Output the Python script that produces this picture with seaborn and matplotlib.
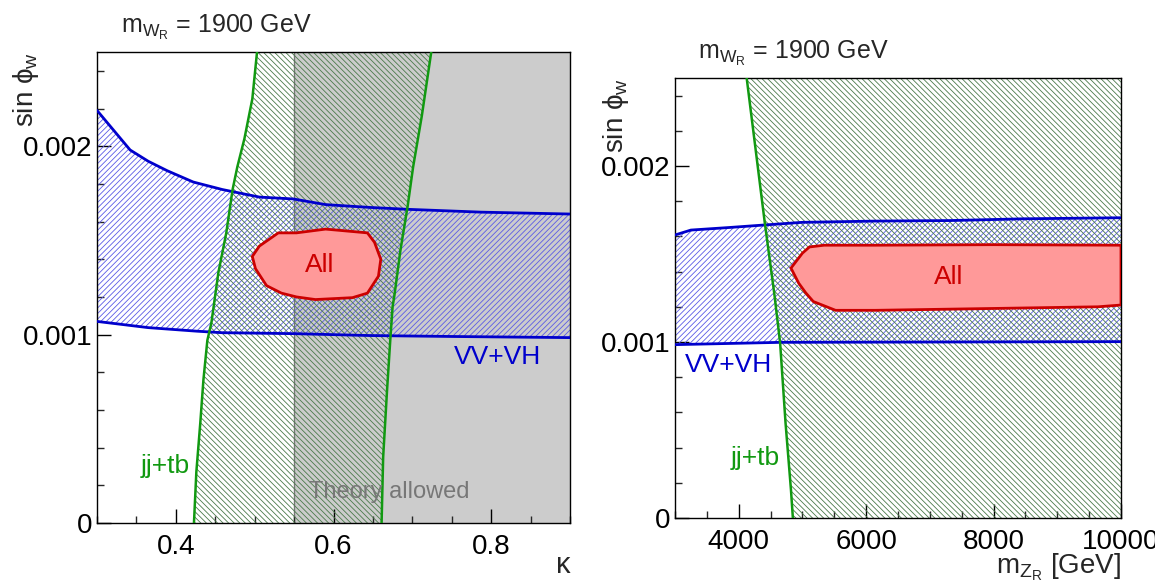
import numpy as np
import matplotlib
matplotlib.use("Agg")
import matplotlib.pyplot as plt
import seaborn as sns
from matplotlib.ticker import MultipleLocator, FuncFormatter

# ---- panel 1: sin(phi_w) vs kappa ----
kappa_vv_up = [0.30, 0.318, 0.342, 0.365, 0.389, 0.422, 0.459, 0.506, 0.549, 0.59, 0.646, 0.694, 0.787, 0.90]
sinw_vv_up = [2.19e-3, 2.10e-3, 1.98e-3, 1.92e-3, 1.87e-3, 1.81e-3, 1.77e-3, 1.73e-3, 1.72e-3,
              1.69e-3, 1.675e-3, 1.665e-3, 1.65e-3, 1.64e-3]
kappa_vv_lo = [0.30, 0.365, 0.427, 0.459, 0.55, 0.646, 0.75, 0.90]
sinw_vv_lo = [1.07e-3, 1.037e-3, 1.018e-3, 1.01e-3, 1.005e-3, 0.995e-3, 0.99e-3, 0.984e-3]

jj_sinw_left = [0, 0.27e-3, 0.53e-3, 0.76e-3, 0.97e-3, 1.06e-3, 1.33e-3, 1.54e-3, 1.77e-3, 1.89e-3, 2.04e-3, 2.25e-3, 2.5e-3]
jj_kappa_left = [0.423, 0.426, 0.431, 0.435, 0.44, 0.445, 0.454, 0.464, 0.472, 0.478, 0.487, 0.497, 0.503]
jj_sinw_right = [0, 0.35e-3, 0.71e-3, 0.97e-3, 1.15e-3, 1.2e-3, 1.45e-3, 1.68e-3, 1.89e-3, 2.16e-3, 2.5e-3]
jj_kappa_right = [0.661, 0.663, 0.668, 0.672, 0.675, 0.677, 0.685, 0.694, 0.701, 0.712, 0.724]

all_kappa = [0.497, 0.506, 0.53, 0.553, 0.59, 0.643, 0.652, 0.66, 0.657, 0.643, 0.624, 0.577,
             0.553, 0.534, 0.515, 0.501, 0.497]
all_sinw = [1.415e-3, 1.47e-3, 1.54e-3, 1.54e-3, 1.56e-3, 1.54e-3, 1.49e-3, 1.40e-3, 1.31e-3, 1.22e-3,
            1.196e-3, 1.186e-3, 1.2e-3, 1.22e-3, 1.26e-3, 1.35e-3, 1.415e-3]

kappa_theory_min = 0.55

# ---- panel 2: sin(phi_w) vs m_ZR ----
mz_vv_up = [3000, 3250, 3830, 4410, 5000, 6150, 7310, 8470, 10000]
sinw2_vv_up = [1.608e-3, 1.636e-3, 1.65e-3, 1.665e-3, 1.68e-3, 1.687e-3, 1.69e-3, 1.70e-3, 1.706e-3]
mz_vv_lo = [3000, 4650, 10000]
sinw2_vv_lo = [0.985e-3, 0.998e-3, 1.002e-3]

mz_jj = [4125, 4410, 4560, 4650, 4735, 4820, 4850]
sinw2_jj = [2.5e-3, 1.675e-3, 1.27e-3, 0.994e-3, 0.54e-3, 0.16e-3, 0]

all2_mz = [4820, 5000, 5110, 5340, 6150, 8000, 10000, 10000, 9640, 7900, 6150, 5520, 5170, 5050, 4940, 4820]
all2_sinw = [1.42e-3, 1.505e-3, 1.54e-3, 1.55e-3, 1.55e-3, 1.553e-3, 1.55e-3, 1.21e-3, 1.20e-3,
             1.19e-3, 1.18e-3, 1.18e-3, 1.23e-3, 1.28e-3, 1.335e-3, 1.42e-3]

BLUE = '#0000cc'
BLUE_H = '#5a5ae6'
GREEN = '#119911'
GREEN_H = '#4a7a4a'
RED = '#cc0000'
PINK = '#ff9999'
HATCH_B = '//////'
HATCH_G = '\\\\\\\\\\\\'

sns.set_theme(style='ticks')
plt.rcParams['font.family'] = ['Liberation Sans', 'DejaVu Sans']
plt.rcParams['mathtext.fontset'] = 'custom'
plt.rcParams['mathtext.rm'] = 'Liberation Sans'
plt.rcParams['mathtext.it'] = 'Liberation Sans:italic'
plt.rcParams['hatch.linewidth'] = 0.6

fig = plt.figure(figsize=(11.55, 5.81), dpi=100)
ax1 = fig.add_axes([97 / 1155, 58 / 581, 473 / 1155, 471 / 581])
ax2 = fig.add_axes([675 / 1155, 63 / 581, 446 / 1155, 440 / 581])


def style_axis(ax):
    for s in ax.spines.values():
        s.set_color('black')
        s.set_linewidth(1.0)
    ax.tick_params(which='major', direction='in', length=10, width=1.0, labelsize=20,
                   colors='black', top=False, right=False)
    ax.tick_params(which='minor', direction='in', length=5, width=1.0, top=False, right=False)
    ax.tick_params(axis='x', which='major', pad=8)
    ax.tick_params(axis='y', which='major', pad=3)
    ax.yaxis.set_major_locator(MultipleLocator(0.001))
    ax.yaxis.set_minor_locator(MultipleLocator(0.0002))
    ax.yaxis.set_major_formatter(FuncFormatter(lambda v, p: '0' if abs(v) < 1e-12 else f'{v:g}'))
    ax.set_ylim(0, 0.0025)
    ax.grid(False)


# ---------- left panel ----------
ax1.axvspan(kappa_theory_min, 0.9, color='#cccccc', lw=0, zorder=0)
ax1.axvline(kappa_theory_min, color='#777777', lw=1.0, zorder=0.5)

ax1.fill(kappa_vv_up + kappa_vv_lo[::-1], sinw_vv_up + sinw_vv_lo[::-1],
         facecolor='none', edgecolor=BLUE_H, hatch=HATCH_B, linewidth=0, zorder=1)
ax1.fill(jj_kappa_left + jj_kappa_right[::-1], jj_sinw_left + jj_sinw_right[::-1],
         facecolor='none', edgecolor=GREEN_H, hatch=HATCH_G, linewidth=0, zorder=1.5)
ax1.fill(all_kappa, all_sinw, facecolor=PINK, edgecolor=RED, linewidth=2, zorder=3)

sns.lineplot(x=kappa_vv_up, y=sinw_vv_up, sort=False, estimator=None, color=BLUE, lw=2, ax=ax1, zorder=4)
sns.lineplot(x=kappa_vv_lo, y=sinw_vv_lo, sort=False, estimator=None, color=BLUE, lw=2, ax=ax1, zorder=4)
sns.lineplot(x=jj_kappa_left, y=jj_sinw_left, sort=False, estimator=None, color=GREEN, lw=1.8, ax=ax1, zorder=4)
sns.lineplot(x=jj_kappa_right, y=jj_sinw_right, sort=False, estimator=None, color=GREEN, lw=1.8, ax=ax1, zorder=4)

ax1.text(0.583, 1.372e-3, 'All', color=RED, fontsize=19, ha='center', va='center', zorder=5)
ax1.text(0.863, 0.883e-3, 'VV+VH', color=BLUE, fontsize=19, ha='right', va='center', zorder=5)
ax1.text(0.386, 0.303e-3, 'jj+tb', color=GREEN, fontsize=19, ha='center', va='center', zorder=5)
ax1.text(0.671, 0.165e-3, 'Theory allowed', color='#777777', fontsize=17, ha='center', va='center', zorder=5)

ax1.set_xlim(0.3, 0.9)
ax1.xaxis.set_major_locator(MultipleLocator(0.2))
ax1.xaxis.set_minor_locator(MultipleLocator(0.05))
ax1.xaxis.set_major_formatter(FuncFormatter(lambda v, p: f'{v:.1f}'))
style_axis(ax1)
ax1.set_xlabel('κ', fontsize=21, loc='right')
ax1.xaxis.set_label_coords(1.0, -0.06)
ax1.xaxis.label.set_va('top')
ax1.set_ylabel('sin ϕ$_{\\mathregular{w}}$', fontsize=20, loc='top')
ax1.yaxis.set_label_coords(-0.118, 1.0)

# ---------- right panel ----------
ax2.fill(mz_vv_up + mz_vv_lo[::-1], sinw2_vv_up + sinw2_vv_lo[::-1],
         facecolor='none', edgecolor=BLUE_H, hatch=HATCH_B, linewidth=0, zorder=1)
ax2.fill(mz_jj + [10000, 10000], sinw2_jj + [0, 2.5e-3],
         facecolor='none', edgecolor=GREEN_H, hatch=HATCH_G, linewidth=0, zorder=1.5)
ax2.fill(all2_mz, all2_sinw, facecolor=PINK, edgecolor=RED, linewidth=2, zorder=3)

sns.lineplot(x=mz_vv_up, y=sinw2_vv_up, sort=False, estimator=None, color=BLUE, lw=2, ax=ax2, zorder=4)
sns.lineplot(x=mz_vv_lo, y=sinw2_vv_lo, sort=False, estimator=None, color=BLUE, lw=2, ax=ax2, zorder=4)
sns.lineplot(x=mz_jj, y=sinw2_jj, sort=False, estimator=None, color=GREEN, lw=1.8, ax=ax2, zorder=4)

ax2.text(7300, 1.37e-3, 'All', color=RED, fontsize=19, ha='center', va='center', zorder=5)
ax2.text(3150, 0.87e-3, 'VV+VH', color=BLUE, fontsize=19, ha='left', va='center', zorder=5)
ax2.text(4650, 0.34e-3, 'jj+tb', color=GREEN, fontsize=19, ha='right', va='center', zorder=5)

ax2.set_xlim(3000, 10000)
ax2.xaxis.set_major_locator(MultipleLocator(2000))
ax2.xaxis.set_minor_locator(MultipleLocator(500))
style_axis(ax2)
ax2.set_xlabel('m$_{\\mathregular{Z_R}}$ [GeV]', fontsize=20, loc='right')
ax2.xaxis.set_label_coords(1.0, -0.075)
ax2.xaxis.label.set_va('top')
ax2.set_ylabel('sin ϕ$_{\\mathregular{w}}$', fontsize=20, loc='top')
ax2.yaxis.set_label_coords(-0.098, 1.0)

# titles
fig.text(121 / 1155, 1 - 33 / 581, 'm$_{\\mathregular{W_R}}$ = 1900 GeV', fontsize=18, va='baseline')
fig.text(698 / 1155, 1 - 59 / 581, 'm$_{\\mathregular{W_R}}$ = 1900 GeV', fontsize=18, va='baseline')

fig.savefig('out.png', dpi=100)
